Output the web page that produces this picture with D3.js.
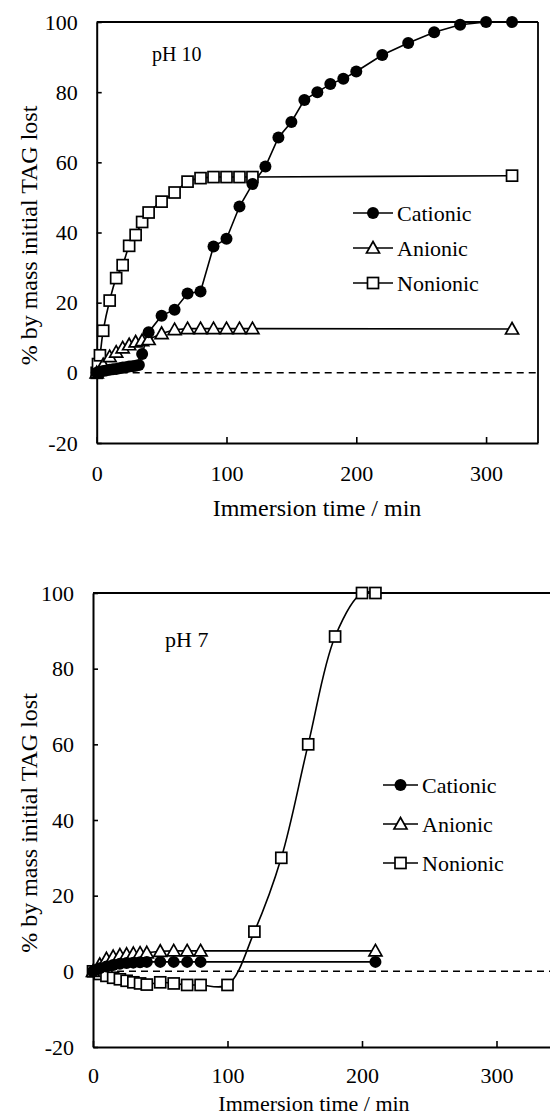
<!DOCTYPE html>
<html>
<head>
<meta charset="utf-8">
<script src="https://cdn.jsdelivr.net/npm/d3@7/dist/d3.min.js"></script>
<style>
  html, body { margin:0; padding:0; background:#fff; }
  svg { display:block; }
  text { font-family:"Liberation Serif","Times New Roman",serif; fill:#000; }
</style>
</head>
<body>
<svg id="chart" width="550" height="1116"></svg>
<script>
// ---- data: [time (min), % by mass initial TAG lost] ----
const ph10Cationic = [
  [0,0],[2.5,0.3],[5,0.5],[7.5,0.7],[10,0.9],[12.5,1],[15,1.1],[17.5,1.3],[20,1.5],
  [22.5,1.6],[25,1.8],[27.5,1.9],[30,2],[32.5,2.2],[35,5.4],[40,11.6],[50,16.3],
  [60,18],[70,22.6],[80,23.2],[90,36],[100,38.2],[110,47.4],[120,53.8],[130,58.8],
  [140,67.1],[150,71.5],[160,77.8],[170,80],[180,82.3],[190,83.8],[200,85.9],
  [220,90.6],[240,94],[260,97.1],[280,99.2],[300,100],[320,100]
];
const ph10Anionic = [
  [0,0],[5,2.3],[10,4.6],[15,5.9],[20,7.1],[25,8],[30,8.8],[35,9.2],[40,9.5],
  [50,11.2],[60,12.3],[70,12.6],[80,12.6],[90,12.6],[100,12.6],[110,12.6],[120,12.6],[320,12.5]
];
const ph10Nonionic = [
  [0,0],[1,2.5],[2.5,5],[5,12],[10,20.6],[15,27],[20,30.7],[25,36.2],[30,39.3],
  [35,43],[40,45.7],[50,48.8],[60,51.4],[70,54.5],[80,55.5],[90,55.8],[100,55.8],
  [110,55.8],[120,55.8],[320,56.2]
];

const ph7Cationic = [
  [0,0],[2.5,0.4],[5,0.8],[10,1.3],[15,1.7],[20,2],[25,2.2],[30,2.3],[35,2.4],[40,2.5],
  [50,2.5],[60,2.5],[70,2.5],[80,2.5],[210,2.5]
];
const ph7Anionic = [
  [0,0],[5,1.8],[10,3.3],[15,3.9],[20,4.3],[25,4.5],[30,4.7],[35,4.8],[40,4.9],
  [50,5.3],[60,5.4],[70,5.4],[80,5.4],[210,5.4]
];
const ph7Nonionic = [
  [0,0],[5,-0.7],[10,-1.2],[15,-1.7],[20,-2.1],[25,-2.5],[30,-2.9],[35,-3.2],[40,-3.5],
  [50,-2.9],[60,-3.2],[70,-3.6],[80,-3.6],[100,-3.6],[120,10.5],[140,30],[160,60],
  [180,88.5],[200,100],[210,100]
];

const seriesNames = ["Cationic", "Anionic", "Nonionic"];
const yTicks = [-20, 0, 20, 40, 60, 80, 100];
const xTicks = [0, 100, 200, 300];

const panels = [
  { label:"pH 10", data:[ph10Cationic, ph10Anionic, ph10Nonionic],
    left:96.7, right:538, top:22, bottom:443, box:true,
    smooth:[false,false,true], tag:{x:152, y:61, size:20},
    legend:{x:353, y:213, dy:35, len:40}, xPad:22,
    title:{x:317, y:516, size:24} },
  { label:"pH 7", data:[ph7Cationic, ph7Anionic, ph7Nonionic],
    left:93, right:550.3, top:593, bottom:1047, box:false,
    smooth:[false,false,true], tag:{x:165, y:647, size:22},
    legend:{x:383, y:785, dy:39, len:35}, xPad:20,
    title:{x:314, y:1111, size:22} }
];

const svg = d3.select("#chart");

function drawMarker(g, kind, x, y) {
  if (kind === 0) {
    g.append("circle").attr("cx", x).attr("cy", y).attr("r", 6).attr("fill", "#000");
  } else if (kind === 1) {
    g.append("path")
      .attr("d", `M${x},${y-6.5} L${x+6.5},${y+5} L${x-6.5},${y+5} Z`)
      .attr("fill", "#fff").attr("stroke", "#000").attr("stroke-width", 1.7);
  } else {
    g.append("rect").attr("x", x-5.5).attr("y", y-5.5).attr("width", 11).attr("height", 11)
      .attr("fill", "#fff").attr("stroke", "#000").attr("stroke-width", 1.7);
  }
}

panels.forEach(p => {
  const x = d3.scaleLinear().domain([0, 340]).range([p.left, p.right]);
  const y = d3.scaleLinear().domain([-20, 100]).range([p.bottom, p.top]);
  const g = svg.append("g");

  // frame (top & right edges)
  g.append("line").attr("x1", p.left).attr("x2", p.right).attr("y1", p.top).attr("y2", p.top)
    .attr("stroke", "#000").attr("stroke-width", 2);
  if (p.box) {
    g.append("line").attr("x1", p.right).attr("x2", p.right).attr("y1", p.top).attr("y2", p.bottom)
      .attr("stroke", "#000").attr("stroke-width", 1.8);
  }

  // dashed zero line
  g.append("line").attr("x1", p.left).attr("x2", p.right + 1).attr("y1", y(0)).attr("y2", y(0))
    .attr("stroke", "#000").attr("stroke-width", 1.5).attr("stroke-dasharray", "7,5");

  // axes with inside ticks; plain hyphen for negatives like the original
  const ya = g.append("g").attr("transform", `translate(${p.left},0)`)
    .call(d3.axisLeft(y).tickValues(yTicks).tickFormat(d => String(d))
      .tickSizeInner(-5).tickSizeOuter(0).tickPadding(19));
  const xa = g.append("g").attr("transform", `translate(0,${p.bottom})`)
    .call(d3.axisBottom(x).tickValues(xTicks).tickFormat(d => String(d))
      .tickSizeInner(-6).tickSizeOuter(0).tickPadding(p.xPad));
  [ya, xa].forEach(a => {
    a.select(".domain").attr("stroke-width", 2);
    a.selectAll(".tick line").attr("stroke-width", 1.6);
    a.selectAll("text").attr("font-size", 22).style("font-family", "'Liberation Serif', serif");
  });

  // axis titles
  g.append("text").attr("x", p.title.x).attr("y", p.title.y)
    .attr("text-anchor", "middle").attr("font-size", p.title.size).text("Immersion time / min");
  g.append("text")
    .attr("transform", `translate(37,${(p.top + p.bottom) / 2 + 3}) rotate(-90)`)
    .attr("text-anchor", "middle").attr("font-size", 24).text("% by mass initial TAG lost");

  g.append("text").attr("x", p.tag.x).attr("y", p.tag.y)
    .attr("font-size", p.tag.size).text(p.label);

  // series: lines first, then markers (cationic drawn last)
  const order = [2, 1, 0];
  order.forEach(i => {
    const line = d3.line().x(d => x(d[0])).y(d => y(d[1]))
      .curve(p.smooth[i] ? d3.curveCatmullRom.alpha(0.5) : d3.curveLinear);
    g.append("path").datum(p.data[i]).attr("d", line)
      .attr("fill", "none").attr("stroke", "#000").attr("stroke-width", 1.6);
  });
  order.forEach(i => {
    const mg = g.append("g");
    p.data[i].forEach(d => drawMarker(mg, i, x(d[0]), y(d[1])));
  });

  // legend
  seriesNames.forEach((name, i) => {
    const ly = p.legend.y + i * p.legend.dy;
    const lg = g.append("g");
    lg.append("line").attr("x1", p.legend.x).attr("x2", p.legend.x + p.legend.len)
      .attr("y1", ly).attr("y2", ly).attr("stroke", "#000").attr("stroke-width", 1.6);
    drawMarker(lg, i, p.legend.x + p.legend.len / 2, ly);
    lg.append("text").attr("x", p.legend.x + p.legend.len + 4).attr("y", ly)
      .attr("dy", "0.35em").attr("font-size", 22).text(name);
  });
});
</script>
</body>
</html>
